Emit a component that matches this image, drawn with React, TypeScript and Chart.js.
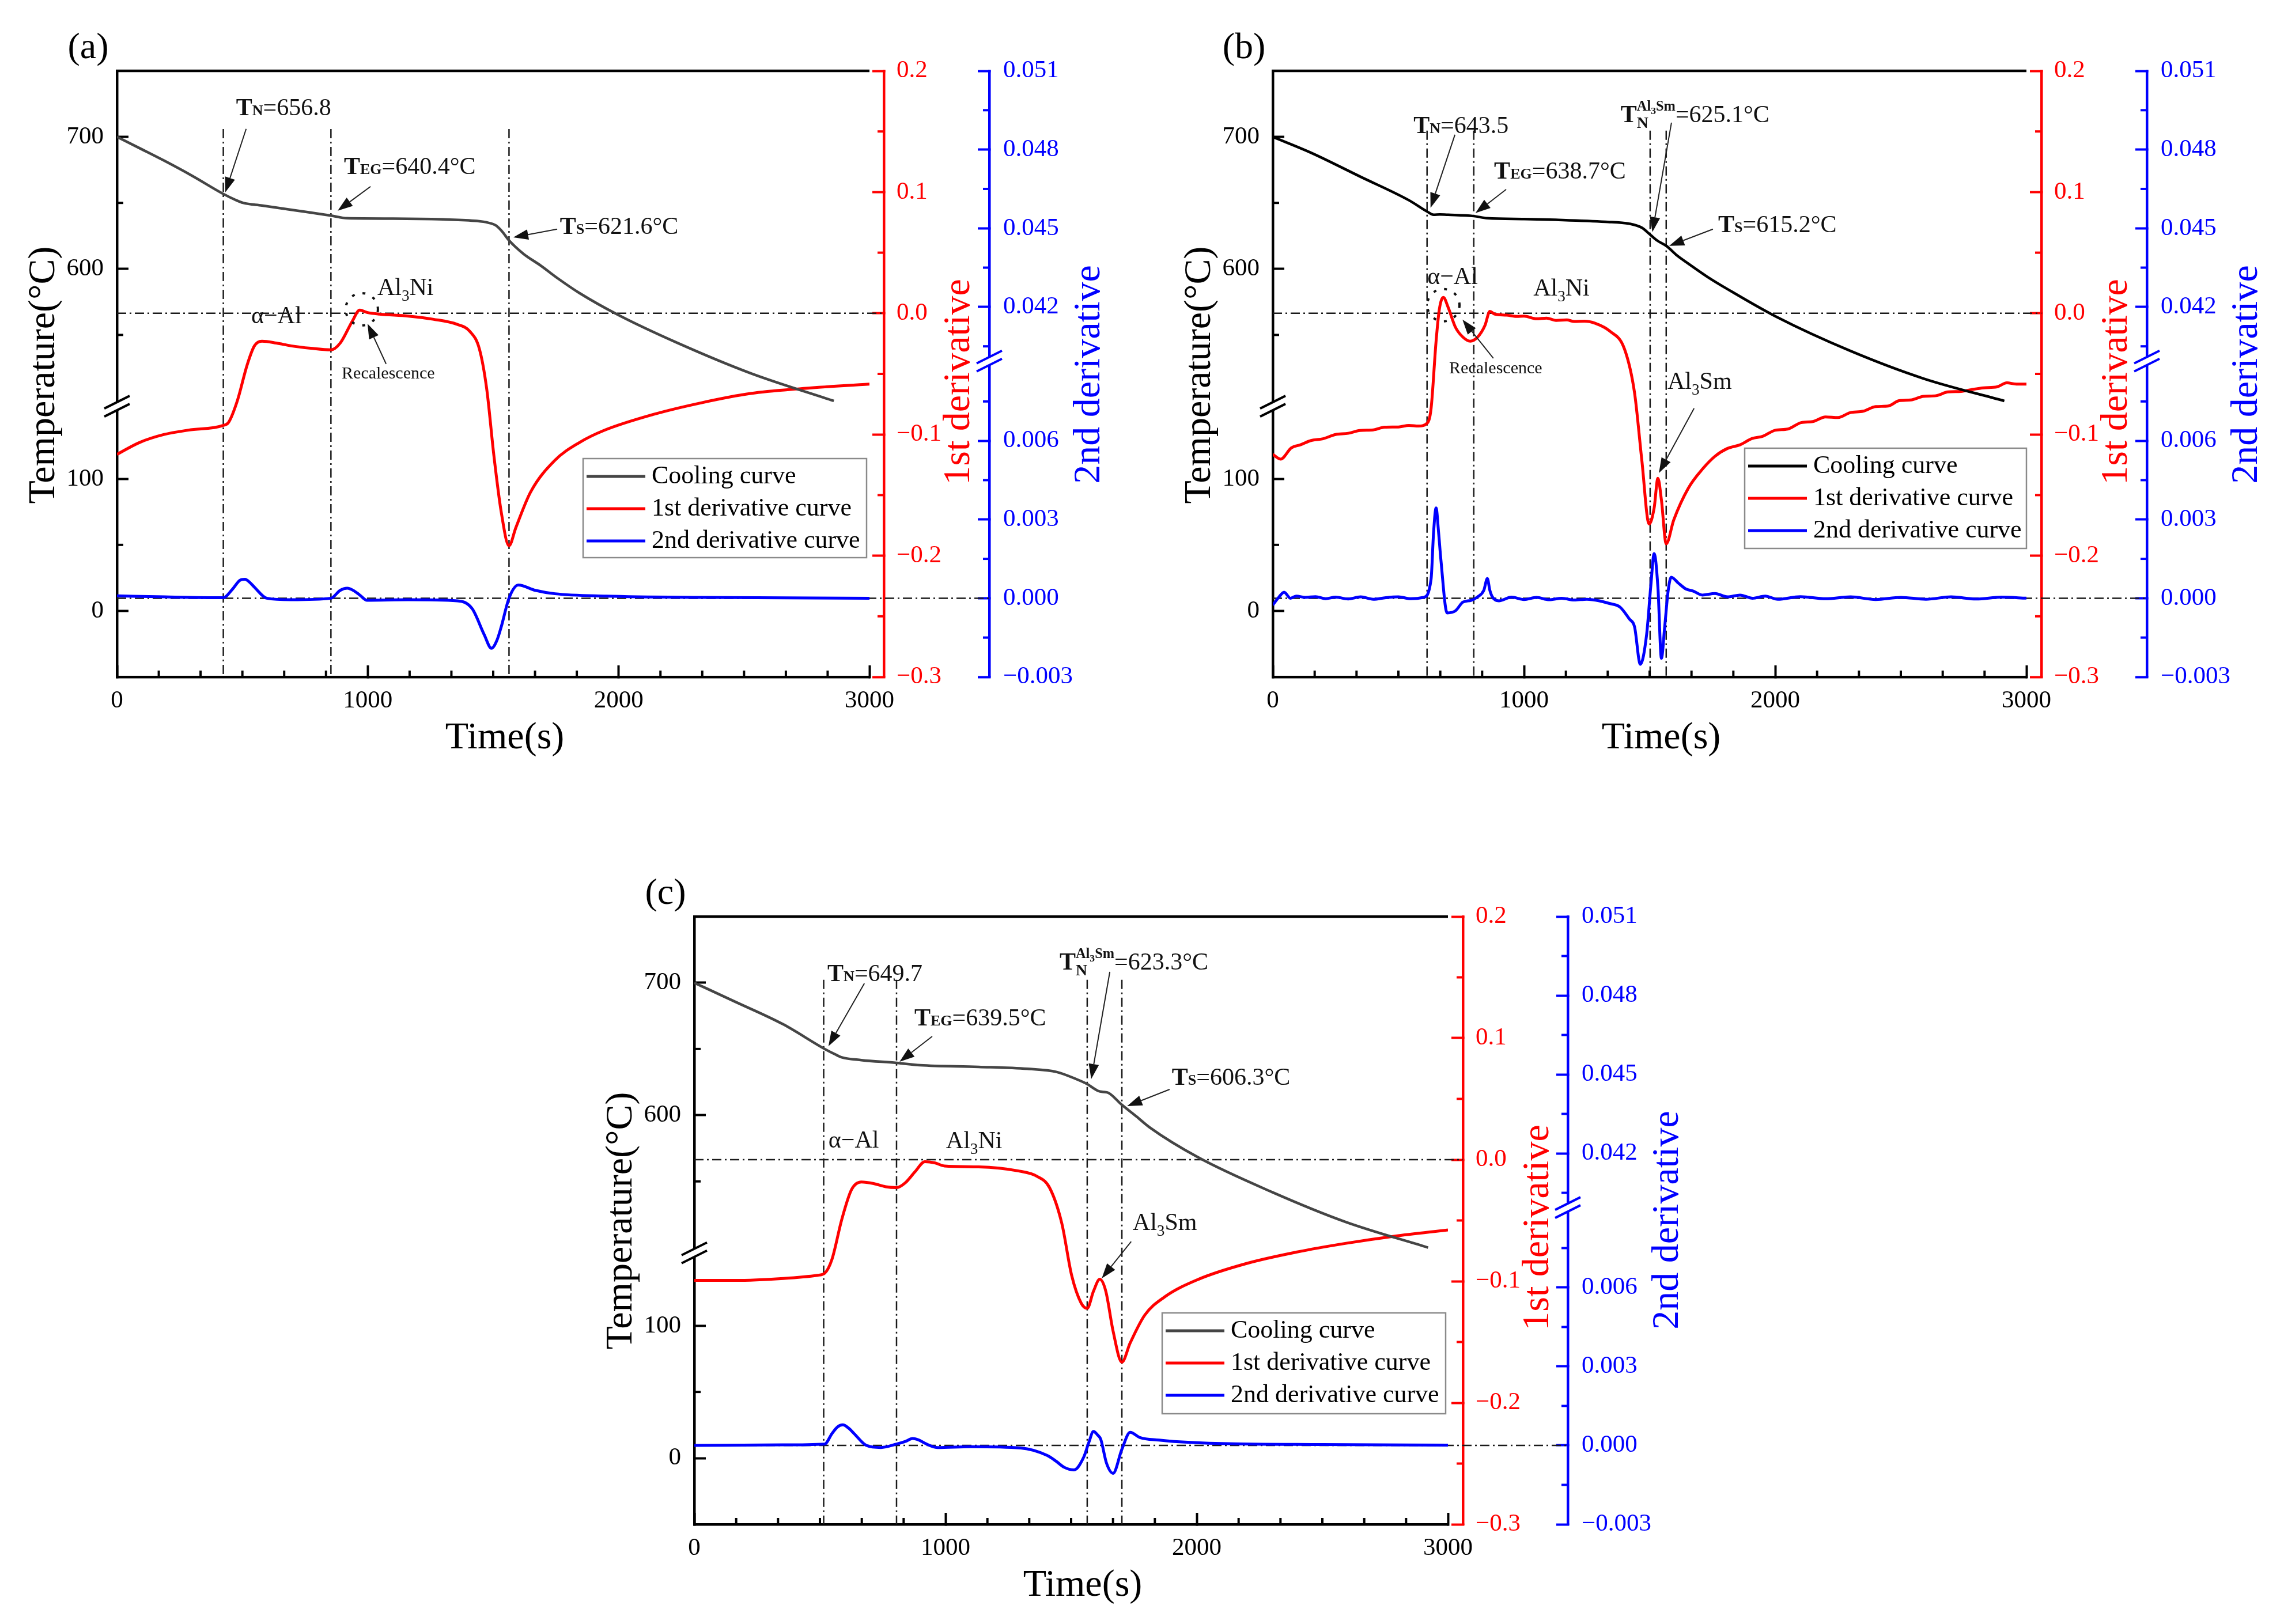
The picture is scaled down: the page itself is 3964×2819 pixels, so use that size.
import React, { useEffect, useRef } from 'react';
import { Chart, registerables, LinearScale } from 'chart.js';

const FONT = "'Liberation Serif', 'Times New Roman', serif";

// ---------------- axes / ticks ----------------
const xTicks = [0, 1000, 2000, 3000];
const xMinor = [166.7, 333.3, 500, 666.7, 833.3, 1166.7, 1333.3, 1500, 1666.7, 1833.3, 2166.7, 2333.3, 2500, 2666.7, 2833.3];
const tempTicks = [0, 100, 600, 700];
const tempMinor = [50, 550, 650];
const tempBreak = [155, 496];
const d1Ticks = [-0.3, -0.2, -0.1, 0, 0.1, 0.2];
const d1Minor = [-0.25, -0.15, -0.05, 0.05, 0.15];
const d2Ticks = [-0.003, 0, 0.003, 0.006, 0.042, 0.045, 0.048, 0.051];
const d2Minor = [-0.0015, 0.0015, 0.0045, 0.0075, 0.0405, 0.0435, 0.0465, 0.0495];
const d2Break = [0.00904, 0.03994];
const seriesLabels = ['Cooling curve', '1st derivative curve', '2nd derivative curve'];

// ---------------- panel (a) ----------------
const aCoolT = [0, 100, 188, 300, 424, 470, 503, 578, 700, 853, 918, 1100, 1300, 1435, 1480, 1510, 1535, 1563, 1620, 1688, 1760, 1844, 2000, 2234, 2526, 2858];
const aCoolV = [700, 690.5, 682, 670.5, 656.8, 652.5, 650, 648, 644.6, 640.4, 638.4, 638.1, 637.5, 636.3, 635, 633, 628.5, 621.6, 611.5, 602.7, 592.5, 581.7, 565, 544, 521, 500];
const aD1T = [0, 90, 188, 285, 424, 445, 480, 519, 548, 578, 636, 694, 773, 853, 890, 938, 968, 997, 1046, 1162, 1260, 1357, 1406, 1445, 1474, 1503, 1532, 1563, 1590, 1649, 1746, 1844, 1941, 2136, 2331, 2526, 2721, 3000];
const aD1V = [-0.1164, -0.1066, -0.1, -0.0964, -0.0925, -0.09, -0.0721, -0.0426, -0.0269, -0.023, -0.0246, -0.0269, -0.0289, -0.0302, -0.0246, -0.0066, 0.0026, 0.0007, -0.0007, -0.0023, -0.0049, -0.0092, -0.0148, -0.0295, -0.0623, -0.118, -0.164, -0.1918, -0.177, -0.1475, -0.1213, -0.1066, -0.0967, -0.0836, -0.0738, -0.0662, -0.0623, -0.0584];
const aD2T = [0, 190, 424, 461, 490, 510, 530, 548, 597, 694, 853, 890, 918, 945, 968, 997, 1160, 1357, 1416, 1464, 1493, 1515, 1532, 1563, 1600, 1668, 1746, 1950, 2330, 3000];
const aD2V = [0.00009, 0.00005, 0.00002, 0.00035, 0.00068, 0.00072, 0.0006, 0.00042, 0, -0.00006, 0, 0.0003, 0.00038, 0.00028, 0.00012, -0.00008, -0.00006, -0.0001, -0.0004, -0.00139, -0.00191, -0.0016, -0.00109, 0, 0.0005, 0.0003, 0.00017, 0.00008, 0.00003, 0];
const aEvents = [424, 853, 1563];

// ---------------- panel (b) ----------------
const bCoolT = [0, 152, 347, 542, 614, 640, 665, 698, 800, 854, 1000, 1127, 1323, 1420, 1469, 1502, 1530, 1566, 1610, 1654, 1730, 1810, 2005, 2298, 2590, 2912];
const bCoolV = [700, 688, 670, 652, 643.5, 641, 641.2, 641, 640, 638.4, 637.8, 637.2, 635.7, 634.2, 631.2, 626, 621.5, 617.5, 610, 604, 594, 584.7, 563.7, 538, 517, 500];
const bD1T = [0, 31, 74, 110, 152, 200, 250, 300, 347, 400, 445, 500, 542, 580, 614, 630, 650, 663, 679, 698, 727, 757, 786, 815, 845, 864, 884, 930, 971, 1000, 1050, 1090, 1127, 1170, 1200, 1240, 1283, 1342, 1400, 1440, 1469, 1498, 1518, 1533, 1547, 1566, 1596, 1654, 1713, 1760, 1810, 1860, 1908, 1950, 2000, 2050, 2103, 2150, 2200, 2250, 2298, 2350, 2400, 2450, 2493, 2540, 2590, 2640, 2688, 2740, 2780, 2830, 2883, 2922, 2960, 3000];
const bD1V = [-0.1164, -0.1203, -0.111, -0.1085, -0.105, -0.1035, -0.1, -0.099, -0.0967, -0.0962, -0.094, -0.0938, -0.0925, -0.093, -0.0908, -0.0787, -0.023, 0.0033, 0.0131, 0.0049, -0.0115, -0.0197, -0.023, -0.0197, -0.0098, 0.0016, -0.0007, -0.0015, -0.0026, -0.0024, -0.0045, -0.004, -0.0059, -0.0055, -0.0068, -0.0065, -0.0082, -0.0148, -0.0295, -0.0656, -0.1213, -0.1738, -0.1607, -0.1361, -0.1541, -0.1902, -0.1705, -0.1443, -0.1279, -0.118, -0.1115, -0.1085, -0.1033, -0.1015, -0.0965, -0.0955, -0.0902, -0.0893, -0.0855, -0.086, -0.082, -0.0808, -0.077, -0.0765, -0.0721, -0.0715, -0.0685, -0.068, -0.0649, -0.0645, -0.063, -0.0615, -0.0607, -0.0574, -0.0584, -0.0584];
const bD2T = [0, 25, 45, 70, 94, 130, 170, 210, 250, 300, 350, 400, 450, 500, 550, 600, 630, 640, 650, 660, 669, 694, 727, 757, 790, 815, 840, 854, 864, 874, 900, 950, 1000, 1050, 1100, 1150, 1200, 1250, 1300, 1340, 1381, 1420, 1440, 1463, 1488, 1505, 1518, 1533, 1547, 1560, 1574, 1586, 1615, 1645, 1674, 1710, 1760, 1810, 1860, 1910, 1960, 2010, 2100, 2200, 2300, 2400, 2500, 2600, 2700, 2800, 2900, 3000];
const bD2V = [-0.00026, 0.00005, 0.00023, 0, 0.00008, 0.00003, 0.00006, -0.00002, 0.00004, -0.00003, 0.00005, -0.00004, 0.00002, 0.00005, -0.00002, 0.00003, 0.00072, 0.0025, 0.00344, 0.0025, 0.00148, -0.00056, -0.00048, -0.00015, -0.00008, 0.00005, 0.0003, 0.00075, 0.0003, 0.00005, -0.0001, 0.00004, -0.00005, 0.00003, -0.00006, 0, -0.00007, -0.00004, -0.0001, -0.0002, -0.00033, -0.0008, -0.00109, -0.00252, -0.00139, 0.0005, 0.0017, 0.00042, -0.00229, -0.00109, 0.0003, 0.0008, 0.00057, 0.00035, 0.00027, 0.00012, 0.00018, 0.00005, 0.00012, 0, 0.00008, -0.00004, 0.00006, -0.00002, 0.00005, -0.00005, 0.00003, -0.00004, 0.00005, -0.00003, 0.00004, 0];
const bEvents = [614, 800, 1502, 1566];

// ---------------- panel (c) ----------------
const cCoolT = [0, 159, 354, 519, 560, 587, 665, 805, 899, 1132, 1326, 1443, 1521, 1564, 1608, 1630, 1647, 1702, 1760, 1813, 2007, 2299, 2591, 2921];
const cCoolV = [700, 686, 668.6, 650, 646, 643.7, 641.6, 639.5, 637.7, 636.5, 635, 632.6, 627.2, 623.5, 618.3, 617.5, 617, 607.8, 599, 590.7, 568, 542, 519.5, 500];
const cD1T = [0, 159, 354, 490, 519, 548, 587, 626, 665, 714, 762, 805, 840, 879, 918, 957, 996, 1132, 1288, 1365, 1414, 1463, 1502, 1540, 1564, 1589, 1614, 1638, 1667, 1702, 1735, 1793, 1871, 2007, 2202, 2396, 2591, 2785, 3000];
const cD1V = [-0.0993, -0.0993, -0.0977, -0.0951, -0.0934, -0.082, -0.0492, -0.0246, -0.0184, -0.0197, -0.0223, -0.023, -0.019, -0.0098, -0.0016, -0.0026, -0.0052, -0.0059, -0.0092, -0.0138, -0.023, -0.0525, -0.0951, -0.118, -0.1223, -0.1082, -0.0984, -0.1082, -0.141, -0.1666, -0.1508, -0.1279, -0.1131, -0.0984, -0.0852, -0.0761, -0.0689, -0.063, -0.0578];
const cD2T = [0, 350, 519, 548, 570, 591, 615, 636, 685, 743, 805, 840, 869, 895, 918, 967, 1100, 1300, 1404, 1440, 1472, 1511, 1550, 1570, 1589, 1605, 1618, 1641, 1667, 1702, 1735, 1774, 1850, 1910, 2100, 2500, 3000];
const cD2V = [0, 0.00002, 0.00005, 0.00045, 0.0007, 0.00078, 0.00065, 0.00045, 0, -0.00008, 0.00005, 0.00015, 0.00026, 0.0002, 0.00008, -0.00008, -0.00005, -0.0001, -0.00038, -0.0006, -0.00083, -0.00093, -0.00045, 0.0001, 0.00053, 0.0004, 0.00023, -0.00068, -0.00106, -0.00015, 0.0005, 0.0003, 0.0002, 0.00015, 0.00007, 0.00003, 0.00001];
const cEvents = [515, 805, 1564, 1702];

// ---------------- text helpers ----------------
type Run = { t: string; b?: boolean; s?: number; dy?: number; at?: 'prev' | 'max' };
type Note = { runs: Run[]; t: number; r: number; size: number };
const tSub = (sub: string, rest: string): Run[] => [{ t: 'T', b: true }, { t: sub, b: true, s: 0.62 }, { t: rest }];
const tNAl3Sm = (rest: string): Run[] => [
  { t: 'T', b: true },
  { t: 'N', b: true, s: 0.66, dy: 0.24 },
  { t: 'Al', b: true, s: 0.58, dy: -0.48, at: 'prev' },
  { t: '3', b: true, s: 0.42, dy: -0.34 },
  { t: 'Sm', b: true, s: 0.58, dy: -0.48 },
  { t: rest, at: 'max' },
];
const chem = (a: string, n: string, b: string): Run[] => [{ t: a }, { t: n, s: 0.65, dy: 0.25 }, { t: b }];
const plain = (s: string): Run[] => [{ t: s }];

// annotation anchors: time (s) and 1st-derivative axis value
const aNotes: Note[] = [
  { runs: tSub('N', '=656.8'), t: 475, r: 0.1635, size: 42 },
  { runs: tSub('EG', '=640.4°C'), t: 905, r: 0.115, size: 42 },
  { runs: tSub('S', '=621.6°C'), t: 1766, r: 0.0656, size: 42 },
  { runs: plain('α−Al'), t: 535, r: -0.0081, size: 42 },
  { runs: chem('Al', '3', 'Ni'), t: 1038, r: 0.0152, size: 42 },
  { runs: plain('Recalescence'), t: 896, r: -0.0537, size: 30 },
];
const aArrows = [[515, 0.1521, 432, 0.0998], [1011, 0.1046, 880, 0.0846], [1755, 0.0694, 1580, 0.0627], [1073, -0.0418, 999, -0.0086]];
const aCircles = [[976, 0.0033]];

const bNotes: Note[] = [
  { runs: tSub('N', '=643.5'), t: 560, r: 0.1488, size: 42 },
  { runs: tSub('EG', '=638.7°C'), t: 881, r: 0.1112, size: 42 },
  { runs: tNAl3Sm('=625.1°C'), t: 1385, r: 0.1578, size: 42 },
  { runs: tSub('S', '=615.2°C'), t: 1773, r: 0.067, size: 42 },
  { runs: plain('α−Al'), t: 615, r: 0.0242, size: 42 },
  { runs: chem('Al', '3', 'Ni'), t: 1037, r: 0.0147, size: 42 },
  { runs: chem('Al', '3', 'Sm'), t: 1571, r: -0.0623, size: 42 },
  { runs: plain('Recalescence'), t: 702, r: -0.0494, size: 30 },
];
const bArrows = [[725, 0.1473, 628, 0.087], [929, 0.1022, 807, 0.0827], [1587, 0.1573, 1511, 0.067], [1752, 0.0694, 1578, 0.0556], [1677, -0.0784, 1537, -0.1317], [878, -0.0371, 755, -0.0052]];
const bCircles = [[679, 0.0067]];

const cNotes: Note[] = [
  { runs: tSub('N', '=649.7'), t: 530, r: 0.1469, size: 42 },
  { runs: tSub('EG', '=639.5°C'), t: 876, r: 0.1104, size: 42 },
  { runs: tNAl3Sm('=623.3°C'), t: 1454, r: 0.1564, size: 42 },
  { runs: tSub('S', '=606.3°C'), t: 1901, r: 0.0616, size: 42 },
  { runs: plain('α−Al'), t: 534, r: 0.01, size: 42 },
  { runs: chem('Al', '3', 'Ni'), t: 1002, r: 0.0095, size: 42 },
  { runs: chem('Al', '3', 'Sm'), t: 1745, r: -0.0578, size: 42 },
];
const cArrows = [[677, 0.145, 534, 0.0934], [947, 0.1014, 817, 0.0806], [1654, 0.1545, 1580, 0.0664], [1892, 0.0578, 1723, 0.0441], [1739, -0.0673, 1622, -0.0976]];
const cCircles: number[][] = [];

// ---------------- broken axis scale ----------------
class BrokenLinearScale extends LinearScale {
  static id = 'brokenLinear';
  static defaults = LinearScale.defaults;
  gap(): [number, number] {
    const o: any = this.options;
    const lo = typeof o.breakLow === 'number' ? o.breakLow : Infinity;
    const hi = typeof o.breakHigh === 'number' ? o.breakHigh : Infinity;
    return [lo, hi];
  }
  fwd(v: number) {
    const [lo, hi] = this.gap();
    if (!isFinite(lo) || v <= lo) return v;
    if (v >= hi) return v - (hi - lo);
    return lo;
  }
  determineDataLimits() {
    super.determineDataLimits();
    this.min = this.fwd(this.min);
    this.max = this.fwd(this.max);
  }
  getPixelForValue(v: number) {
    return super.getPixelForValue(this.fwd(v));
  }
  getValueForPixel(p: number) {
    const u = super.getValueForPixel(p);
    const [lo, hi] = this.gap();
    return u <= lo ? u : u + (hi - lo);
  }
}
Chart.register(...registerables, BrokenLinearScale);
Chart.defaults.font.family = FONT;

// ---------------- drawing helpers ----------------
function seg(ctx: CanvasRenderingContext2D, x1: number, y1: number, x2: number, y2: number) {
  ctx.beginPath();
  ctx.moveTo(x1, y1);
  ctx.lineTo(x2, y2);
  ctx.stroke();
}
function drawRuns(ctx: CanvasRenderingContext2D, runs: Run[], x: number, y: number, size: number, color: string) {
  ctx.save();
  ctx.fillStyle = color;
  ctx.textBaseline = 'alphabetic';
  ctx.textAlign = 'left';
  let cur = x, prevStart = x, maxX = x;
  for (const r of runs) {
    const fs = size * (r.s ?? 1);
    ctx.font = `${r.b ? 'bold ' : ''}${fs}px ${FONT}`;
    const start = r.at === 'prev' ? prevStart : r.at === 'max' ? maxX : cur;
    ctx.fillText(r.t, start, y + (r.dy ?? 0) * size);
    const end = start + ctx.measureText(r.t).width;
    prevStart = start;
    cur = end;
    maxX = Math.max(maxX, end);
  }
  ctx.restore();
}
function arrow(ctx: CanvasRenderingContext2D, x1: number, y1: number, x2: number, y2: number) {
  const ang = Math.atan2(y2 - y1, x2 - x1);
  const L = 26, W = 9;
  const bx = x2 - L * Math.cos(ang), by = y2 - L * Math.sin(ang);
  seg(ctx, x1, y1, bx, by);
  ctx.beginPath();
  ctx.moveTo(x2, y2);
  ctx.lineTo(bx + W * Math.sin(ang), by - W * Math.cos(ang));
  ctx.lineTo(bx - W * Math.sin(ang), by + W * Math.cos(ang));
  ctx.closePath();
  ctx.fill();
}
function breakMark(ctx: CanvasRenderingContext2D, x: number, y: number, color: string) {
  const hw = 22, rise = 11, gap = 7;
  ctx.save();
  ctx.fillStyle = '#fff';
  ctx.beginPath();
  ctx.moveTo(x - 7, y + rise * 0.32 - gap);
  ctx.lineTo(x + 7, y - rise * 0.32 - gap);
  ctx.lineTo(x + 7, y - rise * 0.32 + gap);
  ctx.lineTo(x - 7, y + rise * 0.32 + gap);
  ctx.closePath();
  ctx.fill();
  ctx.strokeStyle = color;
  ctx.lineWidth = 4;
  seg(ctx, x - hw, y + rise - gap, x + hw, y - rise - gap);
  seg(ctx, x - hw, y + rise + gap, x + hw, y - rise + gap);
  ctx.restore();
}
function vText(ctx: CanvasRenderingContext2D, text: string, x: number, y: number, size: number, color: string) {
  ctx.save();
  ctx.translate(x, y);
  ctx.rotate(-Math.PI / 2);
  ctx.font = `${size}px ${FONT}`;
  ctx.fillStyle = color;
  ctx.textAlign = 'center';
  ctx.textBaseline = 'middle';
  ctx.fillText(text, 0, 0);
  ctx.restore();
}

// ---------------- panel config ----------------
interface PanelCfg {
  letter: string;
  canvas: { left: number; top: number; w: number; h: number };
  area: { left: number; top: number; right: number; bottom: number };
  redX: number;
  blueX: number;
  coolColor: string;
  cool: [number[], number[]];
  d1: [number[], number[]];
  d2: [number[], number[]];
  events: number[];
  eventTop: number;
  notes: Note[];
  arrows: number[][];
  circles: number[][];
  legend: { dx: number; dy: number; w: number; h: number };
}

const panels: PanelCfg[] = [
  {
    letter: '(a)',
    canvas: { left: 0, top: 0, w: 1982, h: 1409 },
    area: { left: 203, top: 123, right: 1509, bottom: 1175 },
    redX: 1534, blueX: 1717, coolColor: '#454545',
    cool: [aCoolT, aCoolV], d1: [aD1T, aD1V], d2: [aD2T, aD2V],
    events: aEvents, eventTop: 0.152,
    notes: aNotes, arrows: aArrows, circles: aCircles,
    legend: { dx: -497, dy: 673, w: 492, h: 172 },
  },
  {
    letter: '(b)',
    canvas: { left: 1982, top: 0, w: 1982, h: 1409 },
    area: { left: 227, top: 123, right: 1535, bottom: 1175 },
    redX: 1561, blueX: 1744, coolColor: '#000000',
    cool: [bCoolT, bCoolV], d1: [bD1T, bD1V], d2: [bD2T, bD2V],
    events: bEvents, eventTop: 0.1507,
    notes: bNotes, arrows: bArrows, circles: bCircles,
    legend: { dx: -489, dy: 655, w: 489, h: 174 },
  },
  {
    letter: '(c)',
    canvas: { left: 1000, top: 1409, w: 1982, h: 1410 },
    area: { left: 205, top: 182, right: 1513, bottom: 1237 },
    redX: 1539, blueX: 1721, coolColor: '#454545',
    cool: [cCoolT, cCoolV], d1: [cD1T, cD1V], d2: [cD2T, cD2V],
    events: cEvents, eventTop: 0.148,
    notes: cNotes, arrows: cArrows, circles: cCircles,
    legend: { dx: -496, dy: 688, w: 492, h: 175 },
  },
];

const fmtD1 = (v: number) => (v === 0 ? '0.0' : (v < 0 ? '−' : '') + Math.abs(v).toFixed(1));
const fmtD2 = (v: number) => (v === 0 ? '0.000' : (v < 0 ? '−' : '') + Math.abs(v).toFixed(3));

function makeDeco(cfg: PanelCfg) {
  return {
    id: 'deco',
    beforeDatasetsDraw(chart: any) {
      const { ctx, chartArea: a, scales } = chart;
      const X = (t: number) => scales.x.getPixelForValue(t);
      const R = (r: number) => scales.yR.getPixelForValue(r);
      ctx.save();
      ctx.strokeStyle = '#1a1a1a';
      ctx.lineWidth = 2.5;
      ctx.setLineDash([16, 6, 3, 6]);
      for (const e of cfg.events) seg(ctx, X(e), R(cfg.eventTop), X(e), a.bottom);
      const y0 = R(0);
      seg(ctx, a.left, y0, scales.yR.left, y0);
      const yb = scales.yB.getPixelForValue(0);
      seg(ctx, a.left, yb, scales.yB.left, yb);
      ctx.restore();
    },
    afterDatasetsDraw(chart: any) {
      const { ctx, scales } = chart;
      const X = (t: number) => scales.x.getPixelForValue(t);
      const R = (r: number) => scales.yR.getPixelForValue(r);
      for (const n of cfg.notes) drawRuns(ctx, n.runs, X(n.t), R(n.r), n.size, '#111');
      ctx.save();
      ctx.strokeStyle = '#222';
      ctx.fillStyle = '#111';
      ctx.lineWidth = 2;
      for (const [t1, r1, t2, r2] of cfg.arrows) arrow(ctx, X(t1), R(r1), X(t2), R(r2));
      ctx.strokeStyle = '#111';
      ctx.lineWidth = 4;
      ctx.setLineDash([5, 14]);
      for (const [t, r] of cfg.circles) {
        ctx.beginPath();
        ctx.arc(X(t), R(r), 28, 0, Math.PI * 2);
        ctx.stroke();
      }
      ctx.restore();
    },
    afterDraw(chart: any) {
      const { ctx, chartArea: a, scales } = chart;
      const { x, yT, yR, yB } = scales;
      ctx.save();
      // top frame
      ctx.strokeStyle = '#000';
      ctx.lineWidth = 4.5;
      seg(ctx, a.left - 2, a.top, a.right, a.top);
      // minor ticks
      ctx.lineWidth = 4;
      for (const v of xMinor) { const p = x.getPixelForValue(v); seg(ctx, p, a.bottom, p, a.bottom - 11); }
      for (const v of tempMinor) { const p = yT.getPixelForValue(v); seg(ctx, a.left, p, a.left + 11, p); }
      ctx.strokeStyle = '#ff0000';
      for (const v of d1Minor) { const p = yR.getPixelForValue(v); seg(ctx, yR.left, p, yR.left - 11, p); }
      ctx.strokeStyle = '#0000ff';
      for (const v of d2Minor) { const p = yB.getPixelForValue(v); seg(ctx, yB.left, p, yB.left - 11, p); }
      ctx.restore();
      // axis breaks
      breakMark(ctx, a.left, yT.getPixelForValue(tempBreak[0]), '#000');
      breakMark(ctx, yB.left, yB.getPixelForValue(d2Break[0]), '#0000ff');
      // titles
      vText(ctx, 'Temperature(°C)', a.left - 126, a.top + 528, 66, '#000');
      vText(ctx, '1st derivative', yR.left + 131, a.top + 540, 66, '#ff0000');
      vText(ctx, '2nd derivative', yB.left + 174, a.top + 527, 66, '#0000ff');
      ctx.save();
      ctx.font = `66px ${FONT}`;
      ctx.fillStyle = '#000';
      ctx.textAlign = 'center';
      ctx.textBaseline = 'middle';
      ctx.fillText('Time(s)', (a.left + a.right) / 2 + 20, a.bottom + 107);
      ctx.font = `64px ${FONT}`;
      ctx.fillText(cfg.letter, a.left - 50, a.top - 39);
      ctx.restore();
      // legend
      const L = cfg.legend;
      const lx = a.right + L.dx, ly = a.top + L.dy;
      ctx.save();
      ctx.fillStyle = '#fff';
      ctx.fillRect(lx, ly, L.w, L.h);
      ctx.strokeStyle = '#8a8a8a';
      ctx.lineWidth = 2.5;
      ctx.strokeRect(lx, ly, L.w, L.h);
      ctx.font = `44px ${FONT}`;
      ctx.textBaseline = 'middle';
      ctx.textAlign = 'left';
      chart.data.datasets.forEach((ds: any, i: number) => {
        const yy = ly + 31 + i * 56;
        ctx.strokeStyle = ds.borderColor;
        ctx.lineWidth = 5;
        seg(ctx, lx + 6, yy, lx + 108, yy);
        ctx.fillStyle = '#000';
        ctx.fillText(ds.label, lx + 119, yy);
      });
      ctx.restore();
    },
  };
}

function buildConfig(cfg: PanelCfg): any {
  const pts = (ts: number[], vs: number[]) => ts.map((t, i) => ({ x: t, y: vs[i] }));
  const gridTicks = (color: string) => ({
    display: true,
    drawOnChartArea: false,
    drawTicks: true,
    tickLength: -20,
    tickWidth: 4,
    tickColor: color,
  });
  const tickFont = { size: 43, family: FONT };
  return {
    type: 'line',
    data: {
      datasets: [
        { label: seriesLabels[0], data: pts(cfg.cool[0], cfg.cool[1]), yAxisID: 'yT', borderColor: cfg.coolColor, borderWidth: 4.5 },
        { label: seriesLabels[1], data: pts(cfg.d1[0], cfg.d1[1]), yAxisID: 'yR', borderColor: '#ff0000', borderWidth: 5 },
        { label: seriesLabels[2], data: pts(cfg.d2[0], cfg.d2[1]), yAxisID: 'yB', borderColor: '#0000ff', borderWidth: 5 },
      ].map((d) => ({ ...d, xAxisID: 'x', pointRadius: 0, fill: false, cubicInterpolationMode: 'monotone' })),
    },
    options: {
      responsive: false,
      animation: false,
      devicePixelRatio: 1,
      events: [],
      layout: { padding: { top: cfg.area.top, left: 0, right: 0, bottom: 0 } },
      plugins: { legend: { display: false }, tooltip: { enabled: false }, title: { display: false } },
      scales: {
        x: {
          type: 'linear', position: 'bottom', min: 0, max: 3000, bounds: 'data',
          afterBuildTicks: (s: any) => { s.ticks = xTicks.map((v) => ({ value: v })); },
          afterFit: (s: any) => { s.height = cfg.canvas.h - cfg.area.bottom; },
          grid: gridTicks('#000'),
          border: { display: true, color: '#000', width: 4.5 },
          ticks: { autoSkip: false, maxRotation: 0, padding: 36, color: '#000', font: tickFont, callback: (v: number) => String(v) },
        },
        yT: {
          type: 'brokenLinear', position: 'left', min: -50, max: 750, bounds: 'data',
          breakLow: tempBreak[0], breakHigh: tempBreak[1],
          afterBuildTicks: (s: any) => { s.ticks = tempTicks.map((v) => ({ value: v })); },
          afterFit: (s: any) => { s.width = cfg.area.left; },
          grid: gridTicks('#000'),
          border: { display: true, color: '#000', width: 4.5 },
          ticks: { autoSkip: false, padding: 43, color: '#000', font: tickFont, callback: (v: number) => String(v) },
        },
        ySp: {
          type: 'linear', position: 'right', weight: 0,
          grid: { display: false }, border: { display: false }, ticks: { display: false },
          afterFit: (s: any) => { s.width = cfg.redX - cfg.area.right; },
        },
        yR: {
          type: 'linear', position: 'right', weight: 1, min: -0.3, max: 0.2, bounds: 'data',
          afterBuildTicks: (s: any) => { s.ticks = d1Ticks.map((v) => ({ value: v })); },
          afterFit: (s: any) => { s.width = cfg.blueX - cfg.redX; },
          grid: gridTicks('#ff0000'),
          border: { display: true, color: '#ff0000', width: 4.5 },
          ticks: { autoSkip: false, padding: 42, color: '#ff0000', font: tickFont, callback: (v: number) => fmtD1(v) },
        },
        yB: {
          type: 'brokenLinear', position: 'right', weight: 2, min: -0.003, max: 0.051, bounds: 'data',
          breakLow: d2Break[0], breakHigh: d2Break[1],
          afterBuildTicks: (s: any) => { s.ticks = d2Ticks.map((v) => ({ value: v })); },
          afterFit: (s: any) => { s.width = cfg.canvas.w - cfg.blueX; },
          grid: gridTicks('#0000ff'),
          border: { display: true, color: '#0000ff', width: 4.5 },
          ticks: { autoSkip: false, padding: 44, color: '#0000ff', font: tickFont, callback: (v: number) => fmtD2(v) },
        },
      },
    },
    plugins: [makeDeco(cfg)],
  };
}

function Panel({ cfg }: { cfg: PanelCfg }) {
  const ref = useRef<HTMLCanvasElement>(null);
  useEffect(() => {
    const chart = new Chart(ref.current as HTMLCanvasElement, buildConfig(cfg));
    return () => chart.destroy();
  }, [cfg]);
  const c = cfg.canvas;
  return (
    <canvas
      ref={ref}
      width={c.w}
      height={c.h}
      style={{ position: 'absolute', left: c.left, top: c.top, width: c.w, height: c.h }}
    />
  );
}

export default function App() {
  return (
    <div style={{ position: 'absolute', left: 0, top: 0, width: 3964, height: 2819, background: '#fff', overflow: 'hidden' }}>
      {panels.map((p) => (
        <Panel key={p.letter} cfg={p} />
      ))}
    </div>
  );
}
